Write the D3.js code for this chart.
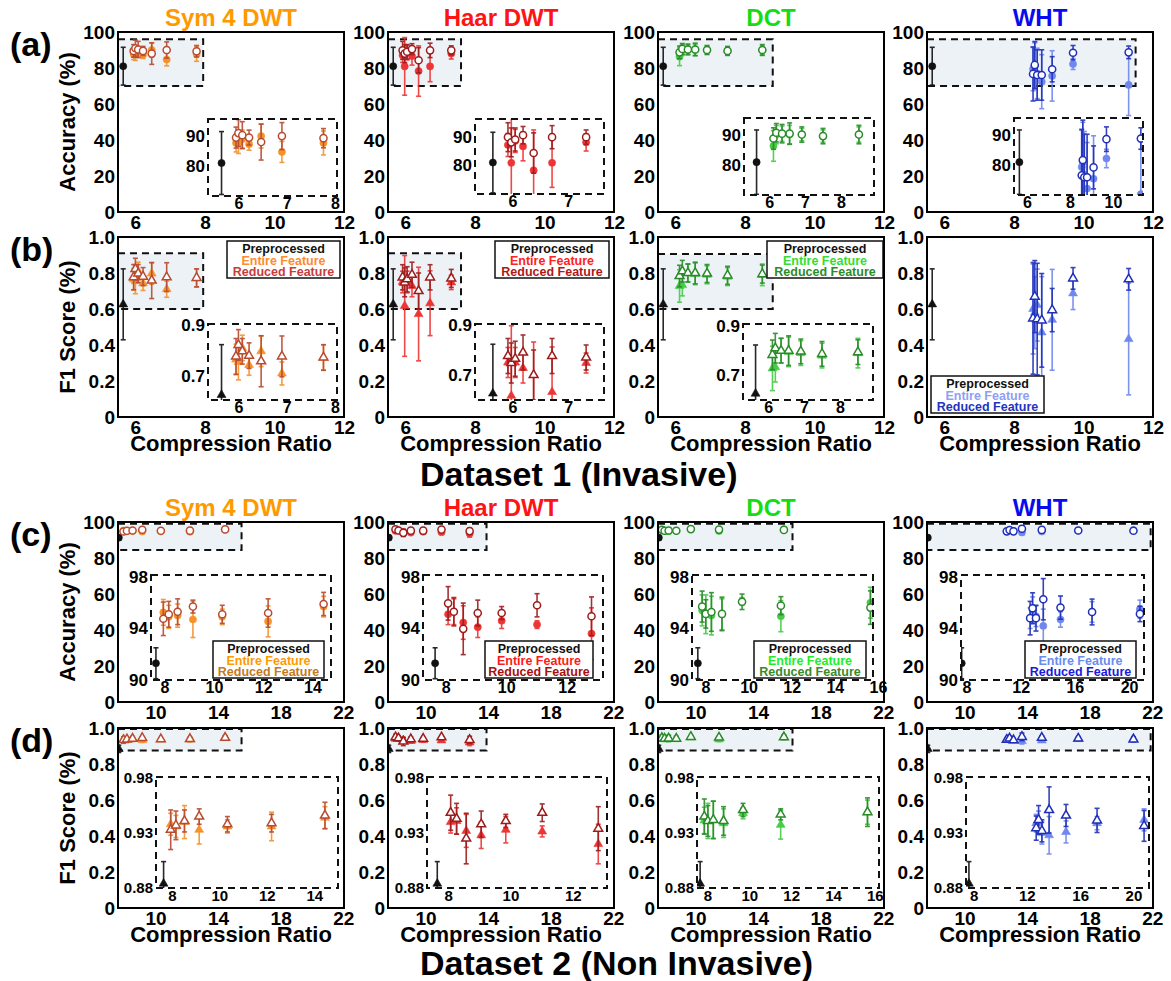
<!DOCTYPE html>
<html><head><meta charset="utf-8">
<script src="https://cdn.jsdelivr.net/npm/d3@7"></script>
<style>
body{margin:0;background:#fff}
svg{display:block}
text{font-family:"Liberation Sans",Arial,Helvetica,sans-serif;font-weight:bold}
</style>
</head><body>
<svg id="chart" width="1171" height="981"></svg>
<script>
// ---------------- DATA ----------------
const methods = ["Sym 4 DWT", "Haar DWT", "DCT", "WHT"];
const rowLetters = ["(a)", "(b)", "(c)", "(d)"];
const legendLabels = ["Preprocessed", "Entire Feature", "Reduced Feature"];
const accTicks = [0, 20, 40, 60, 80, 100];
const f1Ticks = [0, 0.2, 0.4, 0.6, 0.8, 1.0];
const d1CrTicks = [6, 8, 10, 12];
const d2CrTicks = [10, 14, 18, 22];

// Preprocessed baseline [value, error]
const d1PreCr = 5.65;
const d1PreAcc = [81, 10.5];
const d1PreF1 = [0.626, 0.197];
const d2PreCr = 7.65;
const d2PreAcc = [91.3, 1.2];
const d2PreF1 = [0.884, 0.02];

// Dataset 1 (Invasive)
const sym4D1Cr = [5.95, 6.0, 6.08, 6.22, 6.47, 6.9, 7.76];
const sym4D1AccEntire = [[87.7,3],[87.7,3.5],[89,3],[87.3,2],[90,4],[84.7,3.5],[87.7,4]];
const sym4D1AccReduced = [[89.5,3.5],[91,4.5],[90.3,4.5],[89.5,2.5],[88,6],[90,4.5],[89.3,3.2]];
const sym4D1F1Entire = [[0.765,0.06],[0.755,0.07],[0.81,0.05],[0.743,0.04],[0.797,0.06],[0.71,0.045],[0.772,0.05]];
const sym4D1F1Reduced = [[0.777,0.07],[0.822,0.06],[0.797,0.05],[0.78,0.05],[0.758,0.1],[0.777,0.08],[0.773,0.05]];

const haarD1Cr = [5.92, 5.98, 6.05, 6.19, 6.38, 6.71, 7.32];
const haarD1AccEntire = [[87.1,4],[80.9,16],[88.5,4],[86.6,5],[78.3,14],[80.9,8.5],[88,3]];
const haarD1AccReduced = [[89.8,5],[88,5],[89,4],[90.5,3],[84.3,7],[89.8,4],[89.8,2.5]];
const haarD1F1Entire = [[0.75,0.06],[0.617,0.28],[0.75,0.06],[0.728,0.06],[0.572,0.26],[0.632,0.18],[0.748,0.04]];
const haarD1F1Reduced = [[0.776,0.07],[0.748,0.08],[0.765,0.07],[0.79,0.07],[0.70,0.1],[0.776,0.07],[0.77,0.05]];

const dctD1Cr = [6.12, 6.2, 6.36, 6.57, 6.91, 7.5, 8.5];
const dctD1AccEntire = [[86.3,5],[90,3],[90.3,2.5],[90,3],[90,2],[89.5,2],[90,2.5]];
const dctD1AccReduced = [[88.7,3.5],[90.6,3],[90.3,3],[90.3,3.5],[90,2.5],[89.5,2.5],[90,3]];
const dctD1F1Entire = [[0.728,0.09],[0.733,0.06],[0.8,0.05],[0.795,0.06],[0.79,0.05],[0.78,0.05],[0.79,0.06]];
const dctD1F1Reduced = [[0.783,0.06],[0.81,0.06],[0.8,0.05],[0.8,0.06],[0.797,0.05],[0.787,0.05],[0.794,0.05]];

const whtD1Cr = [8.55, 8.6, 8.67, 8.8, 9.1, 9.7, 11.3];
const whtD1AccEntire = [[79.4,12],[81,13],[77,14],[72.4,15],[75.6,14],[82.2,3],[70.6,17]];
const whtD1AccReduced = [[76.7,15],[81.7,13],[76.1,14],[76.1,14],[79.3,7],[88.5,4],[88.7,3.5]];
const whtD1F1Entire = [[0.6,0.25],[0.58,0.2],[0.622,0.2],[0.47,0.31],[0.54,0.28],[0.687,0.09],[0.433,0.31]];
const whtD1F1Reduced = [[0.548,0.31],[0.669,0.2],[0.544,0.31],[0.537,0.26],[0.594,0.12],[0.77,0.06],[0.765,0.06]];

// Dataset 2 (Non Invasive)
const sym4D2Cr = [7.95, 8.17, 8.53, 9.15, 10.34, 12.2, 14.45];
const sym4D2AccEntire = [[95.25,1.0],[94.9,0.9],[95.0,0.9],[94.7,1.4],[94.9,0.6],[94.55,1.2],[95.7,0.8]];
const sym4D2AccReduced = [[94.75,1.3],[95.1,1.0],[95.3,1.0],[95.7,0.5],[95.1,0.7],[95.2,1.1],[95.9,0.9]];
const sym4D2F1Entire = [[0.938,0.01],[0.936,0.01],[0.94,0.015],[0.933,0.013],[0.936,0.006],[0.936,0.013],[0.944,0.01]];
const sym4D2F1Reduced = [[0.933,0.018],[0.937,0.013],[0.941,0.01],[0.945,0.007],[0.938,0.007],[0.939,0.008],[0.946,0.012]];

const haarD2Cr = [8.08, 8.27, 8.58, 9.06, 9.85, 11.02, 12.82];
const haarD2AccEntire = [[95.1,0.8],[95.3,1.0],[94.46,1.3],[94.1,0.8],[94.6,0.6],[94.3,0.3],[93.6,2.0]];
const haarD2AccReduced = [[95.95,1.3],[95.3,1.1],[93.97,2.0],[95.2,1.0],[95.2,0.5],[95.8,0.9],[94.95,1.5]];
const haarD2F1Entire = [[0.94,0.01],[0.941,0.012],[0.932,0.015],[0.928,0.012],[0.933,0.012],[0.9315,0.005],[0.92,0.018]];
const haarD2F1Reduced = [[0.9485,0.016],[0.943,0.014],[0.925,0.023],[0.938,0.012],[0.941,0.006],[0.9485,0.008],[0.934,0.02]];

const dctD2Cr = [7.85, 8.02, 8.28, 8.77, 9.7, 11.5, 15.65];
const dctD2AccEntire = [[95.4,1.2],[95.1,1.5],[95.0,1.5],[95.1,1.2],[96.1,0.3],[94.95,1.2],[96.0,1.2]];
const dctD2AccReduced = [[95.7,1.2],[95.13,1.1],[95.28,1.5],[95.13,1.3],[96.07,0.6],[95.77,0.7],[95.62,1.3]];
const dctD2F1Entire = [[0.9415,0.012],[0.941,0.016],[0.942,0.017],[0.939,0.013],[0.948,0.005],[0.9375,0.013],[0.949,0.011]];
const dctD2F1Reduced = [[0.945,0.016],[0.941,0.014],[0.942,0.017],[0.941,0.013],[0.951,0.006],[0.947,0.005],[0.949,0.013]];

const whtD2Cr = [12.7, 12.88, 13.13, 13.67, 14.94, 17.27, 20.8];
const whtD2AccEntire = [[94.8,0.8],[95.45,1.0],[94.95,0.8],[94.2,1.3],[94.7,0.6],[95.28,0.8],[95.5,0.7]];
const whtD2AccReduced = [[94.8,1.3],[95.57,1.2],[94.8,1.0],[96.27,1.6],[95.62,0.9],[95.28,1.0],[95.13,0.6]];
const whtD2F1Entire = [[0.939,0.008],[0.94,0.01],[0.93,0.01],[0.928,0.017],[0.931,0.01],[0.939,0.006],[0.942,0.01]];
const whtD2F1Reduced = [[0.9345,0.011],[0.942,0.013],[0.932,0.01],[0.951,0.021],[0.946,0.01],[0.9415,0.011],[0.9365,0.014]];

// ---------------- TABLES built from the arrays ----------------
const DATA = {
  d1: [
    {cr: sym4D1Cr, acc: [sym4D1AccEntire, sym4D1AccReduced], f1: [sym4D1F1Entire, sym4D1F1Reduced]},
    {cr: haarD1Cr, acc: [haarD1AccEntire, haarD1AccReduced], f1: [haarD1F1Entire, haarD1F1Reduced]},
    {cr: dctD1Cr, acc: [dctD1AccEntire, dctD1AccReduced], f1: [dctD1F1Entire, dctD1F1Reduced]},
    {cr: whtD1Cr, acc: [whtD1AccEntire, whtD1AccReduced], f1: [whtD1F1Entire, whtD1F1Reduced]}
  ],
  d2: [
    {cr: sym4D2Cr, acc: [sym4D2AccEntire, sym4D2AccReduced], f1: [sym4D2F1Entire, sym4D2F1Reduced]},
    {cr: haarD2Cr, acc: [haarD2AccEntire, haarD2AccReduced], f1: [haarD2F1Entire, haarD2F1Reduced]},
    {cr: dctD2Cr, acc: [dctD2AccEntire, dctD2AccReduced], f1: [dctD2F1Entire, dctD2F1Reduced]},
    {cr: whtD2Cr, acc: [whtD2AccEntire, whtD2AccReduced], f1: [whtD2F1Entire, whtD2F1Reduced]}
  ]
};
const PRE = {d1: {cr: d1PreCr, acc: d1PreAcc, f1: d1PreF1}, d2: {cr: d2PreCr, acc: d2PreAcc, f1: d2PreF1}};

// ---------------- STYLE / LAYOUT ----------------
const titleColors = ["#ff9900", "#ff1414", "#14dd14", "#0a0aee"];
const entireColors = ["#f5922a", "#ee3535", "#46cc46", "#7088ee"];
const reducedColors = ["#b84a30", "#9c1c1c", "#2a8a2a", "#1f2fb8"];
const legendColorsB = [["#111","#ff8a30","#c83c3c"],["#111","#ff2222","#b01818"],["#111","#33dd33","#2a8c2a"],["#111","#8ea0f5","#2333c0"]];
const legendColorsC = [["#111","#ff9a00","#c47a20"],["#111","#ff1a1a","#a81010"],["#111","#22ee22","#3a8a2a"],["#111","#6a8cf0","#1a1ae0"]];
const SHADE = "#edf2f7";
const PW = 226, PH = 180;
const colX = [118, 388, 658, 927];

const rows = [
  {metric:"acc", ds:"d1", shape:"circle", yDomain:[0,100], yTicks:accTicks, xDomain:[5.5,12], xTicks:d1CrTicks, top:32, yTitle:"Accuracy (%)", xTitle:false, fmt:d=>d},
  {metric:"f1", ds:"d1", shape:"triangle", yDomain:[0,1], yTicks:f1Ticks, xDomain:[5.5,12], xTicks:d1CrTicks, top:237, yTitle:"F1 Score (%)", xTitle:true, fmt:d=>d===0?"0":d3.format(".1f")(d)},
  {metric:"acc", ds:"d2", shape:"circle", yDomain:[0,100], yTicks:accTicks, xDomain:[7.6,22.05], xTicks:d2CrTicks, top:522, yTitle:"Accuracy (%)", xTitle:false, fmt:d=>d},
  {metric:"f1", ds:"d2", shape:"triangle", yDomain:[0,1], yTicks:f1Ticks, xDomain:[7.6,22.05], xTicks:d2CrTicks, top:728, yTitle:"F1 Score (%)", xTitle:true, fmt:d=>d===0?"0":d3.format(".1f")(d)}
];

const shades = [
  [[5.5,7.95,70,96],[5.5,7.6,70,96],[5.5,8.8,70,96],[5.5,11.5,70,96]],
  [[5.5,7.95,0.6,0.91],[5.5,7.6,0.6,0.91],[5.5,8.8,0.6,0.905],null],
  [[7.6,15.5,84.5,99],[7.6,13.9,84.5,99],[7.6,16.2,84.5,99],[7.6,21.9,84.5,99]],
  [[7.6,15.5,0.875,0.995],[7.6,13.9,0.875,0.995],[7.6,16.2,0.875,0.995],[7.6,21.9,0.875,0.995]]
];

const fmtInt = d=>d, fmt1 = d=>d3.format(".1f")(d), fmt2 = d=>d3.format(".2f")(d);
const insets = [
  [
    {box:[90,87,219,164], xd:[5.37,8.04], yd:[70,95.7], xt:[6,7,8], yt:[80,90], yf:fmtInt},
    {box:[87,87,216,162], xd:[5.33,7.64], yd:[70.1,96.1], xt:[6,7], yt:[80,90], yf:fmtInt},
    {box:[86,86,216,163], xd:[5.3,8.92], yd:[70.3,95.4], xt:[6,7,8], yt:[80,90], yf:fmtInt},
    {box:[87,86,216,163], xd:[5.4,11.4], yd:[70.3,95.4], xt:[6,8,10], yt:[80,90], yf:fmtInt}
  ],
  [
    {box:[90,87,219,163], xd:[5.37,8.04], yd:[0.606,0.904], xt:[6,7,8], yt:[0.7,0.9], yf:fmt1},
    {box:[87,87,216,163], xd:[5.33,7.64], yd:[0.6,0.904], xt:[6,7], yt:[0.7,0.9], yf:fmt1},
    {box:[85,87,215,163], xd:[5.3,8.92], yd:[0.6,0.908], xt:[6,7,8], yt:[0.7,0.9], yf:fmt1},
    null
  ],
  [
    {box:[33,53,213,158], xd:[7.45,14.75], yd:[90,98.15], xt:[8,10,12,14], yt:[90,94,98], yf:fmtInt},
    {box:[35,53,215,158], xd:[7.25,13.2], yd:[90,98.15], xt:[8,10,12], yt:[90,94,98], yf:fmtInt},
    {box:[34,53,215,158], xd:[7.38,15.77], yd:[90,98.15], xt:[8,10,12,14,16], yt:[90,94,98], yf:fmtInt},
    {box:[34,53,217,158], xd:[7.6,21.1], yd:[90,98.15], xt:[8,12,16,20], yt:[90,94,98], yf:fmtInt}
  ],
  [
    {box:[38,49,220,160], xd:[7.33,15.0], yd:[0.88,0.981], xt:[8,10,12,14], yt:[0.88,0.93,0.98], yf:fmt2},
    {box:[39,49,219,160], xd:[7.32,13.1], yd:[0.88,0.981], xt:[8,10,12], yt:[0.88,0.93,0.98], yf:fmt2},
    {box:[39,49,221,160], xd:[7.5,16.2], yd:[0.88,0.981], xt:[8,10,12,14,16], yt:[0.88,0.93,0.98], yf:fmt2},
    {box:[39,49,222,160], xd:[7.43,21.17], yd:[0.88,0.981], xt:[8,12,16,20], yt:[0.88,0.93,0.98], yf:fmt2}
  ]
];

const legends = [
  [null,null,null,null],
  [{box:[109,4,222,41], colors:legendColorsB[0]},{box:[107,4,221,41], colors:legendColorsB[1]},{box:[109,4,225,41], colors:legendColorsB[2]},{box:[4,139,117,176], colors:legendColorsB[3]}],
  [{box:[95,119,206,156], colors:legendColorsC[0]},{box:[97,119,205,156], colors:legendColorsC[1]},{box:[96,119,208,156], colors:legendColorsC[2]},{box:[98,119,209,156], colors:legendColorsC[3]}],
  [null,null,null,null]
];

// ---------------- DRAW ----------------
const svg = d3.select("#chart");
let clipId = 0;

function styleAxis(sel, size) {
  sel.attr("font-family", null).attr("font-size", size);
  sel.select(".domain").remove();
  sel.selectAll("text").attr("fill", "#000").attr("font-weight", "bold");
}

function drawSeries(g, xs, ys, series, shape) {
  const sym = shape === "circle" ? d3.symbol(d3.symbolCircle, 40) : d3.symbol(d3.symbolTriangle, 34);
  series.forEach(s => {
    const pts = s.cr.map((c, i) => ({x: c, v: s.vals[i][0], e: s.vals[i][1]}));
    const eg = g.append("g").attr("stroke", s.color).attr("stroke-width", 1.6).attr("opacity", 0.9);
    pts.forEach(p => {
      const X = xs(p.x), yt = ys(p.v + p.e), yb = ys(p.v - p.e);
      eg.append("line").attr("x1", X).attr("x2", X).attr("y1", yt).attr("y2", yb);
      eg.append("line").attr("x1", X - 2.5).attr("x2", X + 2.5).attr("y1", yt).attr("y2", yt);
      eg.append("line").attr("x1", X - 2.5).attr("x2", X + 2.5).attr("y1", yb).attr("y2", yb);
    });
    g.append("g").selectAll("path").data(pts).enter().append("path")
      .attr("d", sym())
      .attr("transform", p => `translate(${xs(p.x)},${ys(p.v)})`)
      .attr("fill", s.filled ? s.color : "#fff")
      .attr("stroke", s.color)
      .attr("stroke-width", s.filled ? 0.6 : 1.5);
  });
}

function buildSeries(r, c) {
  const row = rows[r];
  const d = DATA[row.ds][c];
  const pre = PRE[row.ds];
  return [
    {cr: [pre.cr], vals: [pre[row.metric]], color: "#111", filled: true},
    {cr: d.cr, vals: d[row.metric][0], color: entireColors[c], filled: true},
    {cr: d.cr, vals: d[row.metric][1], color: reducedColors[c], filled: false}
  ];
}

function drawPanel(r, c) {
  const row = rows[r];
  const g = svg.append("g").attr("transform", `translate(${colX[c]},${row.top})`);
  const x = d3.scaleLinear().domain(row.xDomain).range([0, PW]);
  const y = d3.scaleLinear().domain(row.yDomain).range([PH, 0]);
  g.append("rect").attr("width", PW).attr("height", PH).attr("fill", "#fff");

  const sh = shades[r][c];
  if (sh) {
    g.append("rect").attr("x", x(sh[0])).attr("y", y(sh[3]))
      .attr("width", x(sh[1]) - x(sh[0])).attr("height", y(sh[2]) - y(sh[3]))
      .attr("fill", SHADE).attr("stroke", "#111").attr("stroke-width", 2).attr("stroke-dasharray", "7,5");
  }
  const series = buildSeries(r, c);
  const cid = "clip" + (clipId++);
  g.append("clipPath").attr("id", cid).append("rect").attr("width", PW).attr("height", PH);
  const gm = g.append("g").attr("clip-path", `url(#${cid})`);
  drawSeries(gm, x, y, series, row.shape);

  const ins = insets[r][c];
  if (ins) {
    const [bx0, by0, bx1, by1] = ins.box;
    const xi = d3.scaleLinear().domain(ins.xd).range([bx0, bx1]);
    const yi = d3.scaleLinear().domain(ins.yd).range([by1, by0]);
    g.append("rect").attr("x", bx0).attr("y", by0).attr("width", bx1 - bx0).attr("height", by1 - by0)
      .attr("fill", "#fff");
    const iid = "clip" + (clipId++);
    g.append("clipPath").attr("id", iid).append("rect").attr("x", bx0).attr("y", by0).attr("width", bx1 - bx0).attr("height", by1 - by0);
    const gi = g.append("g").attr("clip-path", `url(#${iid})`);
    drawSeries(gi, xi, yi, series, row.shape);
    g.append("rect").attr("x", bx0).attr("y", by0).attr("width", bx1 - bx0).attr("height", by1 - by0)
      .attr("fill", "none").attr("stroke", "#111").attr("stroke-width", 2).attr("stroke-dasharray", "7,5");
    g.append("g").attr("transform", `translate(${bx0},0)`)
      .call(d3.axisLeft(yi).tickValues(ins.yt).tickFormat(ins.yf).tickSize(0).tickPadding(3))
      .call(s => styleAxis(s, r === 3 ? 15 : 17));
    g.append("g").attr("transform", `translate(0,${by1})`)
      .call(d3.axisBottom(xi).tickValues(ins.xt).tickFormat(d => d).tickSize(0).tickPadding(2))
      .call(s => styleAxis(s, r === 3 ? 15 : 16));
  }

  const lg = legends[r][c];
  if (lg) {
    const [lx0, ly0, lx1, ly1] = lg.box;
    g.append("rect").attr("x", lx0).attr("y", ly0).attr("width", lx1 - lx0).attr("height", ly1 - ly0)
      .attr("fill", "#fff").attr("stroke", "#111").attr("stroke-width", 1.5);
    legendLabels.forEach((t, i) => {
      g.append("text").attr("x", (lx0 + lx1) / 2).attr("y", ly0 + 12 + i * 11.7)
        .attr("text-anchor", "middle").attr("font-size", 12.5).attr("fill", lg.colors[i]).text(t);
    });
  }

  g.append("rect").attr("width", PW).attr("height", PH).attr("fill", "none").attr("stroke", "#000").attr("stroke-width", 2);

  g.append("g").call(d3.axisLeft(y).tickValues(row.yTicks).tickFormat(row.fmt).tickSize(0).tickPadding(3))
    .call(s => styleAxis(s, 19));
  g.append("g").attr("transform", `translate(0,${PH})`)
    .call(d3.axisBottom(x).tickValues(row.xTicks).tickFormat(d => d).tickSize(0).tickPadding(3))
    .call(s => styleAxis(s, 19));

  if (row.xTitle) {
    g.append("text").attr("x", PW / 2).attr("y", PH + 34).attr("text-anchor", "middle")
      .attr("font-size", 22).attr("fill", "#000").text("Compression Ratio");
  }
  if (r === 0 || r === 2) {
    g.append("text").attr("x", PW / 2).attr("y", -6).attr("text-anchor", "middle")
      .attr("font-size", 24).attr("fill", titleColors[c]).text(methods[c]);
  }
}

rows.forEach((row, r) => {
  for (let c = 0; c < 4; c++) drawPanel(r, c);
  svg.append("text").attr("x", 10).attr("y", row.top + 24).attr("font-size", 34).attr("fill", "#000").text(rowLetters[r]);
  svg.append("text").attr("transform", `translate(67,${row.top + PH / 2}) rotate(-90)`)
    .attr("text-anchor", "middle").attr("dy", "0.35em").attr("font-size", 22).attr("fill", "#000").text(row.yTitle);
});

svg.append("text").attr("x", 420).attr("y", 486).attr("font-size", 34).attr("fill", "#000").text("Dataset 1 (Invasive)");
svg.append("text").attr("x", 420).attr("y", 975).attr("font-size", 34).attr("fill", "#000").text("Dataset 2 (Non Invasive)");
</script>
</body></html>
